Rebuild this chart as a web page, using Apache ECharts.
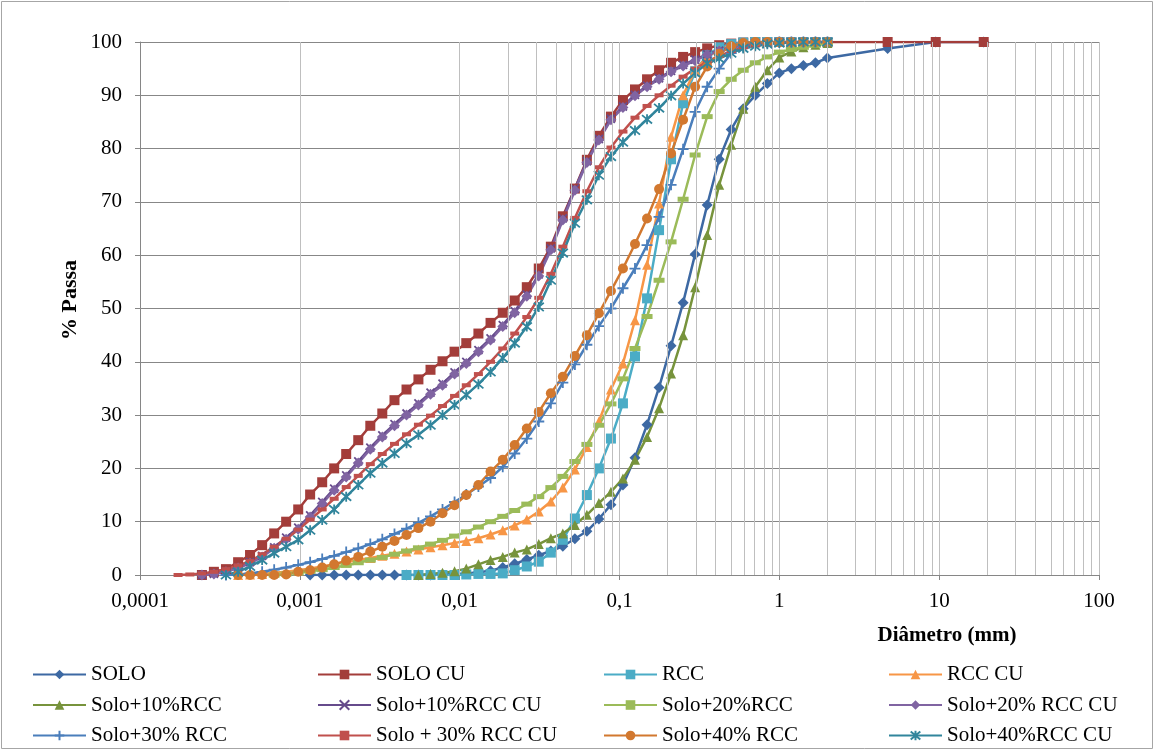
<!DOCTYPE html>
<html>
<head>
<meta charset="utf-8">
<script src="https://cdn.jsdelivr.net/npm/echarts@6/dist/echarts.min.js"></script>
<style>
  html, body { margin: 0; padding: 0; background: #fff; }
  #chart { width: 1155px; height: 751px; }
</style>
</head>
<body>
<div id="chart"></div>
<script>
// diâmetros (mm) do granulômetro a laser
const diametros = [0.000173, 0.000205, 0.000244, 0.00029, 0.000345, 0.000411, 0.000488, 0.000581, 0.000691, 0.000821,
  0.000977, 0.00116, 0.00138, 0.00164, 0.00195, 0.00232, 0.00276, 0.00328, 0.00391, 0.00465,
  0.00552, 0.00657, 0.00781, 0.00929, 0.0110, 0.0131, 0.0156, 0.0186, 0.0221, 0.0263,
  0.03125, 0.0372, 0.0442, 0.0526, 0.0625, 0.0743, 0.0884, 0.1051, 0.125, 0.1487,
  0.1768, 0.2102, 0.25, 0.2973, 0.3536, 0.4204, 0.5, 0.5946, 0.7071, 0.8409,
  1.0, 1.1892, 1.4142, 1.6818, 2.0]
// peneiras (mm)
const peneiras = [4.76, 9.52, 19.0]

const solo = [null, null, null, null, null, null, null, null, null, null,
  null, 0, 0, 0, 0, 0, 0, 0, 0, 0,
  0, 0, 0.1, 0.2, 0.3, 0.5, 0.8, 1.4, 2.1, 2.9,
  3.7, 4.5, 5.4, 6.8, 8.2, 10.5, 13.2, 16.9, 22.0, 28.2,
  35.2, 43.0, 51.1, 60.2, 69.4, 78.0, 83.6, 87.5, 90.0, 92.2,
  94.2, 95.0, 95.6, 96.1, 97.0]
const soloPeneiras = [98.8, 100, 100]

const soloCU = [null, null, 0, 0.6, 1.1, 2.4, 3.75, 5.6, 7.8, 10.0,
  12.3, 15.1, 17.4, 20.0, 22.7, 25.3, 28.0, 30.3, 32.8, 34.8,
  36.7, 38.5, 40.1, 41.9, 43.5, 45.3, 47.3, 49.2, 51.5, 54.0,
  57.5, 61.6, 67.3, 72.5, 77.9, 82.4, 86.0, 89.1, 91.1, 93.0,
  94.7, 96.1, 97.2, 98.1, 98.8, 99.4, 99.7, 99.9, 100, 100,
  100, 100, 100, 100, 100]
const soloCUPeneiras = [100, 100, 100]

const rcc = [null, null, null, null, null, null, null, null, null, null,
  null, null, null, null, null, null, null, null, null, 0,
  0, 0, 0, 0, 0.1, 0.2, 0.2, 0.3, 0.9, 1.6,
  2.5, 4.2, 6.6, 10.6, 15.0, 20.0, 25.6, 32.2, 41.0, 51.9,
  64.7, 78.0, 88.5, 94.5, 97.5, 99.0, 99.6, 99.9, 100, 100,
  100, 100, 100, 100, 100]

const rccCU = [null, null, null, null, null, 0, 0.1, 0.2, 0.4, 0.6,
  0.9, 1.2, 1.6, 2.0, 2.4, 2.8, 3.2, 3.6, 4.0, 4.4,
  4.8, 5.2, 5.6, 6.0, 6.4, 6.9, 7.6, 8.4, 9.3, 10.4,
  11.9, 13.8, 16.4, 19.8, 24.0, 28.8, 34.8, 39.7, 47.8, 58.2,
  69.7, 82.2, 90.0, 94.7, 97.2, 98.5, 99.3, 99.7, 99.9, 100,
  100, 100, 100, 100, 100]

const solo10 = [null, null, null, null, null, null, null, null, null, null,
  null, null, null, null, null, null, null, null, null, null,
  0, 0.2, 0.4, 0.7, 1.2, 2.0, 2.8, 3.4, 4.2, 4.8,
  5.8, 6.9, 7.8, 9.4, 11.3, 13.5, 15.6, 18.1, 21.6, 25.9,
  31.3, 37.8, 45.0, 54.0, 63.8, 73.2, 80.7, 87.5, 91.6, 94.7,
  97.1, 98.2, 99.0, 99.5, 99.8]

const solo10CU = [null, null, 0, 0.2, 0.7, 1.4, 2.4, 3.6, 5.2, 7.0,
  8.9, 11.2, 13.7, 16.2, 18.7, 21.3, 23.9, 26.2, 28.3, 30.3,
  32.2, 34.2, 35.9, 38.0, 40.0, 42.2, 44.4, 46.9, 49.5, 52.6,
  56.4, 61.3, 66.9, 72.5, 77.6, 81.8, 85.6, 87.9, 90.1, 91.8,
  93.2, 94.6, 95.7, 96.7, 97.7, 98.4, 99.0, 99.5, 99.8, 99.9,
  100, 100, 100, 100, 100]

const solo20 = [null, null, null, null, null, null, null, null, 0, 0.2,
  0.4, 0.7, 1.0, 1.4, 1.8, 2.3, 2.8, 3.3, 3.9, 4.5,
  5.1, 5.8, 6.5, 7.3, 8.1, 9.0, 10.0, 11.0, 12.1, 13.3,
  14.7, 16.4, 18.5, 21.3, 24.5, 28.1, 32.1, 36.8, 42.5, 48.5,
  55.3, 62.5, 70.5, 78.8, 86.0, 90.7, 93.0, 94.7, 96.1, 97.2,
  98.1, 98.6, 99.0, 99.4, 99.7]

const solo20CU = [null, null, 0, 0.2, 0.6, 1.3, 2.2, 3.4, 5.0, 6.7,
  8.6, 10.9, 13.4, 15.9, 18.4, 21.0, 23.6, 25.9, 28.0, 30.0,
  31.9, 33.9, 35.6, 37.7, 39.7, 41.9, 44.1, 46.6, 49.2, 52.3,
  56.1, 61.0, 66.6, 72.2, 77.4, 81.6, 85.4, 87.7, 89.9, 91.6,
  93.0, 94.4, 95.5, 96.5, 97.6, 98.3, 98.9, 99.4, 99.7, 99.9,
  100, 100, 100, 100, 100]

const solo30 = [null, null, null, null, 0, 0.1, 0.3, 0.6, 1.0, 1.4,
  1.9, 2.4, 3.0, 3.6, 4.3, 5.0, 5.8, 6.7, 7.7, 8.7,
  9.8, 11.0, 12.3, 13.7, 15.1, 16.6, 18.2, 20.3, 22.8, 25.6,
  28.8, 32.2, 36.1, 39.5, 43.2, 46.7, 50.0, 53.8, 57.5, 61.9,
  67.2, 73.2, 79.9, 86.9, 91.6, 95.0, 97.9, 99.0, 99.6, 99.9,
  100, 100, 100, 100, 100]

const solo30CU = [0, 0.1, 0.3, 0.6, 1.1, 1.8, 2.6, 3.9, 5.3, 6.8,
  8.5, 10.4, 12.3, 14.3, 16.5, 18.6, 20.8, 22.7, 24.6, 26.4,
  28.2, 29.9, 31.7, 33.6, 35.6, 37.7, 40.0, 42.5, 45.3, 48.4,
  52.0, 56.5, 61.6, 67.0, 72.0, 76.5, 80.2, 83.2, 85.8, 88.0,
  90.0, 91.8, 93.5, 95.0, 96.3, 97.4, 98.3, 99.0, 99.5, 99.8,
  99.9, 100, 100, 100, 100]

const solo40 = [null, null, null, null, null, 0, 0, 0, 0, 0.1,
  0.6, 0.9, 1.4, 2.0, 2.7, 3.4, 4.4, 5.3, 6.4, 7.5,
  8.8, 10.0, 11.6, 13.1, 15.0, 16.9, 19.4, 21.6, 24.4, 27.5,
  30.6, 34.1, 37.2, 41.1, 45.0, 49.1, 53.3, 57.5, 62.1, 66.9,
  72.4, 79.1, 85.4, 91.6, 95.4, 97.8, 99.2, 99.8, 100, 100,
  100, 100, 100, 100, 100]

const solo40CU = [null, null, null, null, 0, 0.6, 1.6, 2.8, 4.1, 5.3,
  6.6, 8.4, 10.3, 12.3, 14.7, 16.9, 19.1, 21.0, 22.8, 24.7,
  26.3, 28.1, 30.0, 31.9, 33.8, 35.8, 38.1, 40.7, 43.5, 46.6,
  50.3, 55.3, 60.4, 66.0, 70.4, 75.0, 78.5, 81.2, 83.4, 85.5,
  87.6, 89.9, 92.2, 94.2, 96.0, 96.9, 97.9, 98.8, 99.2, 99.6,
  99.8, 99.9, 100, 100, 100]

const xTickLabels = ['0,0001', '0,001', '0,01', '0,1', '1', '10', '100']
const nomes = ['SOLO', 'SOLO CU', 'RCC', 'RCC CU', 'Solo+10%RCC', 'Solo+10%RCC CU',
  'Solo+20%RCC', 'Solo+20% RCC CU', 'Solo+30% RCC', 'Solo + 30% RCC CU', 'Solo+40% RCC', 'Solo+40%RCC CU']

function pares(vals, extraX, extraV) {
  let out = []
  vals.forEach((v, i) => { if (v !== null) out.push([diametros[i], v]) })
  if (extraX) extraX.forEach((x, i) => out.push([x, extraV[i]]))
  return out
}

const FONT = 'Liberation Serif'
const X_PATH = 'path://M0,0L10,10M10,0L0,10'
const PLUS_PATH = 'path://M5,0L5,10M0,5L10,5'
const STAR_PATH = 'path://M0,0L10,10M10,0L0,10M5,-1L5,11'

function serie(nome, dados, cor, symbol, size, stroke) {
  return {
    name: nome,
    type: 'line',
    data: dados,
    symbol: symbol,
    symbolSize: size,
    showSymbol: true,
    lineStyle: { color: cor, width: 2.5 },
    itemStyle: stroke ? { color: cor, borderColor: cor, borderWidth: 1.8 } : { color: cor, borderWidth: 0 },
    z: 3
  }
}

// linhas de grade secundárias (2..9 em cada década)
let secundarias = []
for (let e = -4; e < 2; e++) {
  for (let m = 2; m <= 9; m++) secundarias.push({ xAxis: m * Math.pow(10, e) })
}

let myChart = echarts.init(document.getElementById('chart'))
let option = {
  animation: false,
  backgroundColor: '#fff',
  grid: { left: 140, top: 42, right: 56, bottom: 176 },
  xAxis: {
    type: 'log',
    logBase: 10,
    min: 0.0001,
    max: 100,
    axisLine: { show: true, lineStyle: { color: '#868686', width: 1 } },
    axisTick: { show: true, length: 5, lineStyle: { color: '#868686' } },
    axisLabel: {
      margin: 16,
      fontFamily: FONT, fontSize: 21, color: '#000',
      formatter: v => xTickLabels[Math.round(Math.log10(v)) + 4]
    },
    splitLine: { show: true, lineStyle: { color: '#bfbfbf', width: 1 } }
  },
  yAxis: {
    type: 'value',
    min: 0,
    max: 100,
    interval: 10,
    axisLine: { show: true, lineStyle: { color: '#868686', width: 1 } },
    axisTick: { show: true, length: 5, lineStyle: { color: '#868686' } },
    axisLabel: { margin: 18, fontFamily: FONT, fontSize: 21, color: '#000' },
    splitLine: { show: true, lineStyle: { color: '#878787', width: 1 } }
  },
  legend: [
    { data: [nomes[0], nomes[4], nomes[8]], left: 32 },
    { data: [nomes[1], nomes[5], nomes[9]], left: 317 },
    { data: [nomes[2], nomes[6], nomes[10]], left: 603 },
    { data: [nomes[3], nomes[7], nomes[11]], left: 888 }
  ].map(l => Object.assign(l, {
    orient: 'vertical', top: 664, height: 87, padding: 0,
    itemWidth: 53, itemHeight: 12, itemGap: 9.5,
    selectedMode: false,
    textStyle: { fontFamily: FONT, fontSize: 21, color: '#000', lineHeight: 21 }
  })),
  graphic: [
    { type: 'rect', shape: { x: 1.5, y: 1.5, width: 1151, height: 747 },
      style: { fill: 'none', stroke: '#a6a6a6', lineWidth: 1 }, silent: true },
    { type: 'text', x: 70, y: 300, rotation: Math.PI / 2,
      style: { text: '% Passa', font: 'bold 22px "Liberation Serif"', fill: '#000', textAlign: 'center', textVerticalAlign: 'middle' } },
    { type: 'text', x: 947, y: 636,
      style: { text: 'Diâmetro (mm)', font: 'bold 21px "Liberation Serif"', fill: '#000', textAlign: 'center', textVerticalAlign: 'middle' } }
  ],
  series: [
    {
      name: 'grade', type: 'line', data: [], z: 1, silent: true,
      markLine: { silent: true, symbol: 'none', label: { show: false },
        lineStyle: { color: '#bfbfbf', width: 1, type: 'solid' }, data: secundarias }
    },
    serie(nomes[0], pares(solo, peneiras, soloPeneiras), '#3d69a3', 'diamond', 11),
    serie(nomes[1], pares(soloCU, peneiras, soloCUPeneiras), '#a33d3a', 'rect', 10),
    serie(nomes[2], pares(rcc), '#4bacc6', 'rect', 10),
    serie(nomes[3], pares(rccCU), '#f79646', 'triangle', 10),
    serie(nomes[4], pares(solo10), '#77933c', 'triangle', 10),
    serie(nomes[5], pares(solo10CU), '#664b8c', X_PATH, 8, true),
    serie(nomes[6], pares(solo20), '#9bbb59', 'rect', [11, 5]),
    serie(nomes[7], pares(solo20CU), '#8064a2', 'diamond', 11),
    serie(nomes[8], pares(solo30), '#4a7ebb', PLUS_PATH, 11, true),
    serie(nomes[9], pares(solo30CU), '#c0504d', 'rect', [9, 4]),
    serie(nomes[10], pares(solo40), '#d2782f', 'circle', 10),
    serie(nomes[11], pares(solo40CU), '#31859c', STAR_PATH, 10, true)
  ]
}
myChart.setOption(option)
</script>
</body>
</html>
